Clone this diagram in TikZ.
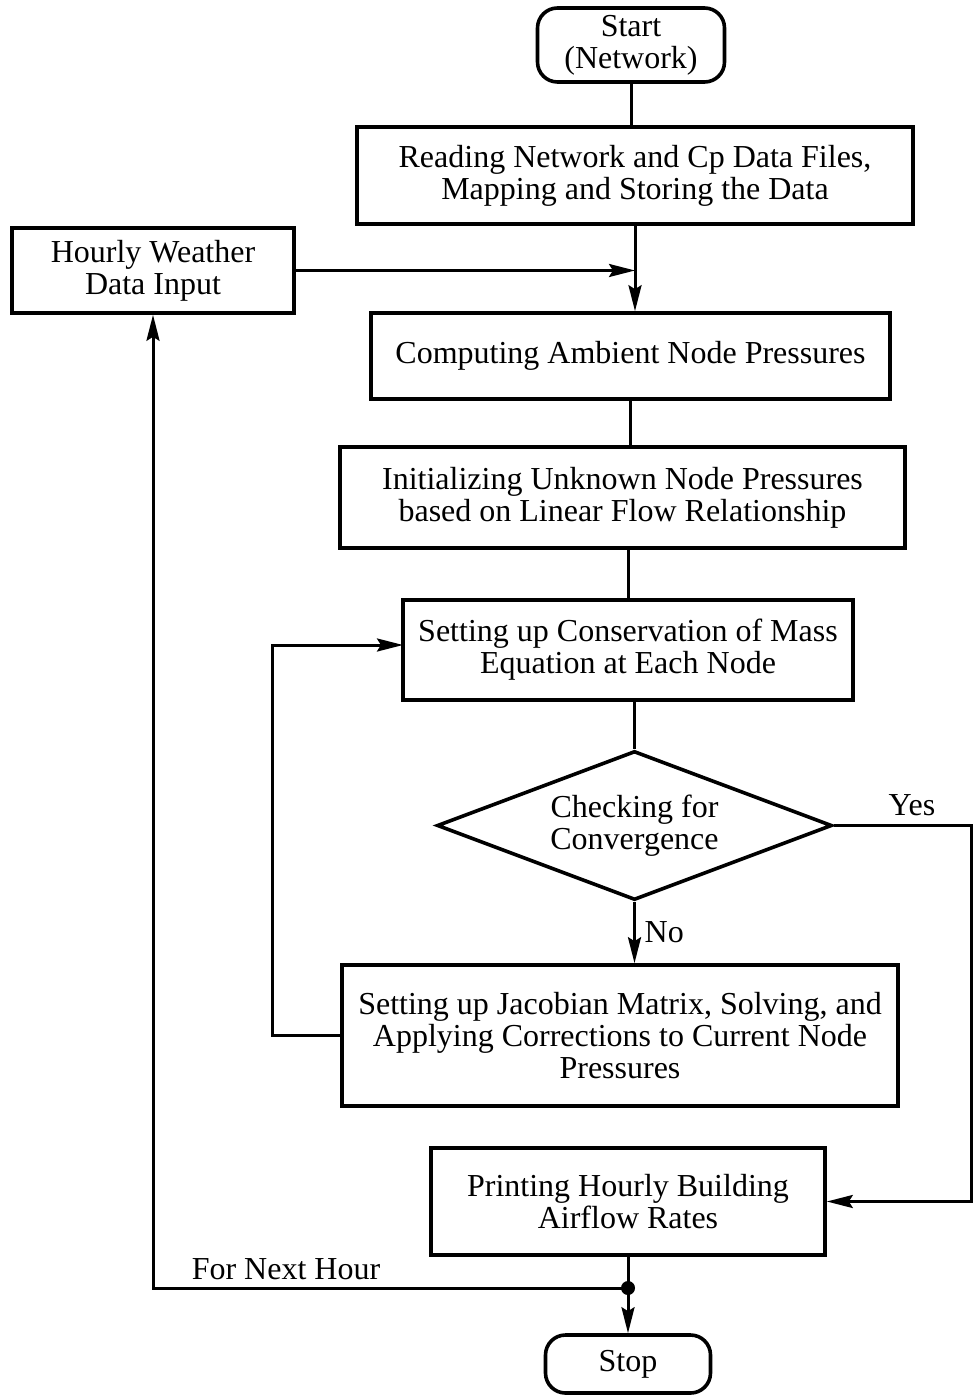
\documentclass[tikz,border=0pt]{standalone}
\usepackage{fontspec}
\setmainfont{Liberation Serif}
\usetikzlibrary{arrows.meta}
\usetikzlibrary{shapes.geometric}

\begin{document}
\begin{tikzpicture}[x=0.5pt, y=-0.5pt,
    font=\fontsize{16}{16}\selectfont,
    box/.style={draw, line width=1.8pt, align=center, inner sep=0pt},
    term/.style={box, rounded corners=10pt},
    decision/.style={box, diamond, aspect=2.6},
    link/.style={line width=1.5pt},
    arr/.style={link, -{Stealth[length=13pt, width=6.5pt, inset=2pt]}}]
  \useasboundingbox (0,0) rectangle (974,1395);

  % main column
  \node[term, minimum width=93.5pt, minimum height=37pt] (start) at (631,45) {Start\\(Network)};
  \node[box, minimum width=278pt, minimum height=48.5pt] (read) at (635,175.5)
    {Reading Network and Cp Data Files,\\Mapping and Storing the Data};
  \node[box, minimum width=141pt, minimum height=42.5pt] (hourly) at (153,270.5)
    {Hourly Weather\\Data Input};
  \node[box, minimum width=259.5pt, minimum height=43pt] (comp) at (630.5,356)
    {Computing Ambient Node Pressures};
  \node[box, minimum width=282.5pt, minimum height=50.5pt] (init) at (622.5,497.5)
    {Initializing Unknown Node Pressures\\based on Linear Flow Relationship};
  \node[box, minimum width=225pt, minimum height=50pt] (cons) at (628,650)
    {Setting up Conservation of Mass\\Equation at Each Node};
  \node[decision, minimum width=197.5pt, minimum height=74.5pt] (dia) at (634.5,825.5)
    {Checking for\\Convergence};
  \node[box, minimum width=278pt, minimum height=70.5pt] (jac) at (620,1035.5)
    {Setting up Jacobian Matrix, Solving, and\\Applying Corrections to Current Node\\Pressures};
  \node[box, minimum width=197pt, minimum height=53.5pt] (print) at (628,1201.5)
    {Printing Hourly Building\\Airflow Rates};
  \node[term, minimum width=82.5pt, minimum height=29pt] (stop) at (628,1364) {Stop};

  \coordinate (loopx) at (272,0);
  \coordinate (rim) at (971,0);
  \coordinate (join) at (628,1288);
  \coordinate (entry) at (403,645);

  % connectors
  \draw[link] (start) -- (start |- read.north);
  \draw[arr] (read) -- (read |- comp.north);
  \draw[arr] (hourly) -- (hourly -| read);
  \draw[link] (comp) -- (comp |- init.north);
  \draw[link] (cons) -- (cons |- init.south);
  \draw[link] (dia) -- (dia |- cons.south);
  \draw[arr] (dia) -- (dia |- jac.north) node[pos=0.5, right=1pt] {No};
  \draw[arr] (jac.west) -- (jac.west -| loopx) |- (entry);
  \draw[arr] (dia.east) -- (dia.east -| rim) node[pos=0.57, above=1pt] {Yes} |- (print.east);
  \draw[link] (print) -- (join);
  \fill (join) circle (3.5pt);
  \draw[arr] (join) -- (stop);
  \draw[arr] (join) -| (hourly) node[pos=0.36, above=0pt] {For Next Hour};
\end{tikzpicture}
\end{document}
